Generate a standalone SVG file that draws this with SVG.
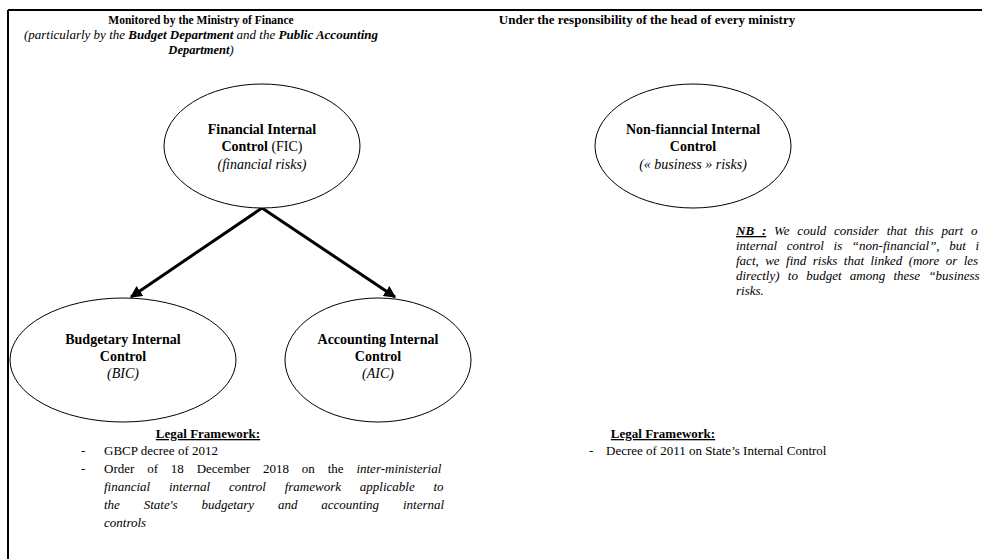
<svg xmlns="http://www.w3.org/2000/svg" width="982" height="559" viewBox="0 0 982 559">
<style>
text{font-family:"Liberation Serif","Times New Roman",serif;font-size:13px;fill:#000}
.b{font-weight:bold}
.i{font-style:italic}
.c{text-anchor:middle}
.n{font-size:14px}
.node ellipse{fill:#fff;stroke:#000;stroke-width:1}
.conn line{stroke:#000;stroke-width:3}
.nb{font-size:13px;font-style:italic}
.u{text-decoration:underline}
</style>
<defs>
<marker id="ah" viewBox="0 0 10 10" refX="9" refY="5" markerWidth="4" markerHeight="4" orient="auto" markerUnits="strokeWidth">
<path d="M0,0 L10,5 L0,10 z" fill="#000"/>
</marker>
</defs>
<rect width="982" height="559" fill="#fff"/>
<g id="frame">
<line x1="8" y1="10" x2="982" y2="10" stroke="#000" stroke-width="2"/>
<line x1="8" y1="10" x2="8" y2="559" stroke="#000" stroke-width="2"/>
</g>
<g id="titles">
<text class="b c" x="201" y="24" style="font-size:11.5px">Monitored by the Ministry of Finance</text>
<text class="i c" x="201" y="39">(particularly by the <tspan class="b">Budget Department</tspan> and the <tspan class="b">Public Accounting</tspan></text>
<text class="i c" x="201" y="54" style="font-size:12.5px"><tspan class="b">Department</tspan>)</text>
<text class="b c" x="647" y="24">Under the responsibility of the head of every ministry</text>
</g>
<g class="conn" id="connectors">
<line x1="262" y1="208" x2="131" y2="297" marker-end="url(#ah)"/>
<line x1="262" y1="208" x2="395" y2="297" marker-end="url(#ah)"/>
</g>
<g class="node" id="fic">
<ellipse cx="262" cy="146" rx="98" ry="62"/>
<text class="n b c" x="262" y="134">Financial Internal</text>
<text class="n c" x="262" y="151"><tspan class="b">Control</tspan> (FIC)</text>
<text class="n i c" x="262" y="169">(financial risks)</text>
</g>
<g class="node" id="nfic">
<ellipse cx="693" cy="146" rx="98" ry="62"/>
<text class="n b c" x="693" y="134">Non-fianncial Internal</text>
<text class="n b c" x="693" y="151">Control</text>
<text class="n i c" x="693" y="169">(« business » risks)</text>
</g>
<g class="node" id="bic">
<ellipse cx="123" cy="360" rx="113" ry="62"/>
<text class="n b c" x="123" y="344">Budgetary Internal</text>
<text class="n b c" x="123" y="361">Control</text>
<text class="n i c" x="123" y="378">(BIC)</text>
</g>
<g class="node" id="aic">
<ellipse cx="378" cy="360" rx="93" ry="62"/>
<text class="n b c" x="378" y="344">Accounting Internal</text>
<text class="n b c" x="378" y="361">Control</text>
<text class="n i c" x="378" y="378">(AIC)</text>
</g>
<g id="nb">
<text class="nb" x="736" y="235" style="word-spacing:4.6px"><tspan class="b u">NB :</tspan> We could consider that this part o</text>
<text class="nb" x="736" y="250" style="word-spacing:6.4px">internal control is “non-financial”, but i</text>
<text class="nb" x="736" y="265" style="word-spacing:3.2px">fact, we find risks that linked (more or les</text>
<text class="nb" x="736" y="280" style="word-spacing:5px">directly) to budget among these “business</text>
<text class="nb" x="736" y="295">risks.</text>
</g>
<g id="legal-left">
<text class="b u c" x="208" y="438">Legal Framework:</text>
<text x="81" y="455">-</text>
<text x="104" y="455">GBCP decree of 2012</text>
<text x="81" y="473">-</text>
<text x="104" y="473" style="word-spacing:9.6px">Order of 18 December 2018 on the <tspan class="i">inter-ministerial</tspan></text>
<text class="i" x="104" y="491" style="word-spacing:15.5px">financial internal control framework applicable to</text>
<text class="i" x="104" y="509" style="word-spacing:20.6px">the State's budgetary and accounting internal</text>
<text class="i" x="104" y="527">controls</text>
</g>
<g id="legal-right">
<text class="b u c" x="663" y="438">Legal Framework:</text>
<text x="589" y="455">-</text>
<text x="606" y="455">Decree of 2011 on State’s Internal Control</text>
</g>
</svg>
